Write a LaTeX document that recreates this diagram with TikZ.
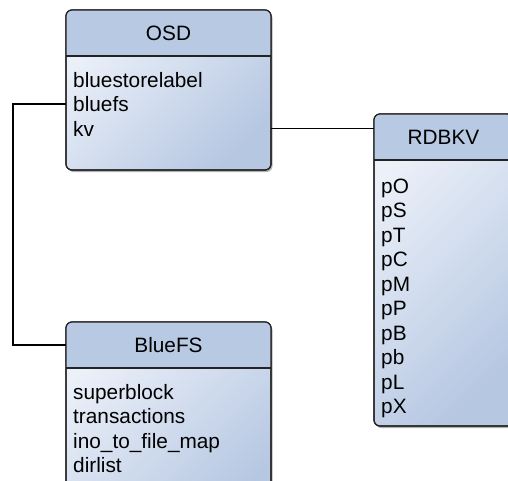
\documentclass[tikz,border=0pt]{standalone}
\usepackage{fontspec}
\setmainfont{Liberation Sans}
\usetikzlibrary{shadows}

\definecolor{headblue}{RGB}{184,201,227}
\definecolor{bodylight}{RGB}{236,241,249}
\definecolor{bodydark}{RGB}{182,199,226}
\definecolor{rimgray}{RGB}{35,35,35}

\tikzset{
  classbox/.style={rectangle, rounded corners=6pt, draw=rimgray, line width=1.2pt,
    anchor=north west, inner sep=0pt, outer sep=0pt,
    left color=bodylight, right color=bodydark, shading angle=45,
    drop shadow={shadow xshift=1.5pt, shadow yshift=-2pt, opacity=0.3, fill=black}},
  classtitle/.style={inner sep=0pt, font=\fontsize{20.8}{24.5}\selectfont},
  member/.style={anchor=base west, inner sep=0pt, font=\fontsize{20.8}{24.5}\selectfont},
  link/.style={draw=black, line width=1.2pt},
}

\begin{document}
\begin{tikzpicture}[x=1pt, y=-1pt]
\useasboundingbox (0,0) rectangle (508,480);
\clip (0,0) rectangle (508,480);

% the three class boxes, header strip 46pt high
\foreach \name/\x/\y/\h/\w/\title in {osd/66/10/160/205/OSD,
                                     bluefs/66/322/200/205/BlueFS,
                                     rdbkv/374/114/312/139/RDBKV} {
    \node[classbox, minimum width=\w pt, minimum height=\h pt] (\name) at (\x,\y) {};
    \begin{scope}
        \clip[rounded corners=6pt] (\name.north west) rectangle (\name.south east);
        \fill[headblue] (\name.north west) rectangle ([yshift=-46pt]\name.north east);
    \end{scope}
    \draw[rimgray, line width=1.2pt, rounded corners=6pt] (\name.north west) rectangle (\name.south east);
    \draw[rimgray, line width=1.2pt] ([yshift=-46pt]\name.north west) -- ([yshift=-46pt]\name.north east);
    \node[classtitle] (\name-title) at ([yshift=-23pt]\name.north) {\title};
}

% members
\foreach \m [count=\i from 0] in {bluestorelabel, bluefs, kv}
    \node[member] (osd-m\i) at (73, {87+24.5*\i}) {\m};
\foreach \m [count=\i from 0] in {superblock, transactions, ino\_to\_file\_map, dirlist}
    \node[member] (bluefs-m\i) at (73, {399+24.5*\i}) {\m};
\foreach \m [count=\i from 0] in {pO, pS, pT, pC, pM, pP, pB, pb, pL, pX}
    \node[member] (rdbkv-m\i) at (381, {193.5+24.45*\i}) {\m};

% connectors
\draw[link] (osd-m1 -| osd.west) -- ++(-53pt,0) |- (bluefs-title -| bluefs.west);
\draw[link] (osd-m2 -| osd.east) -- (osd-m2 -| rdbkv.west);
\end{tikzpicture}
\end{document}
